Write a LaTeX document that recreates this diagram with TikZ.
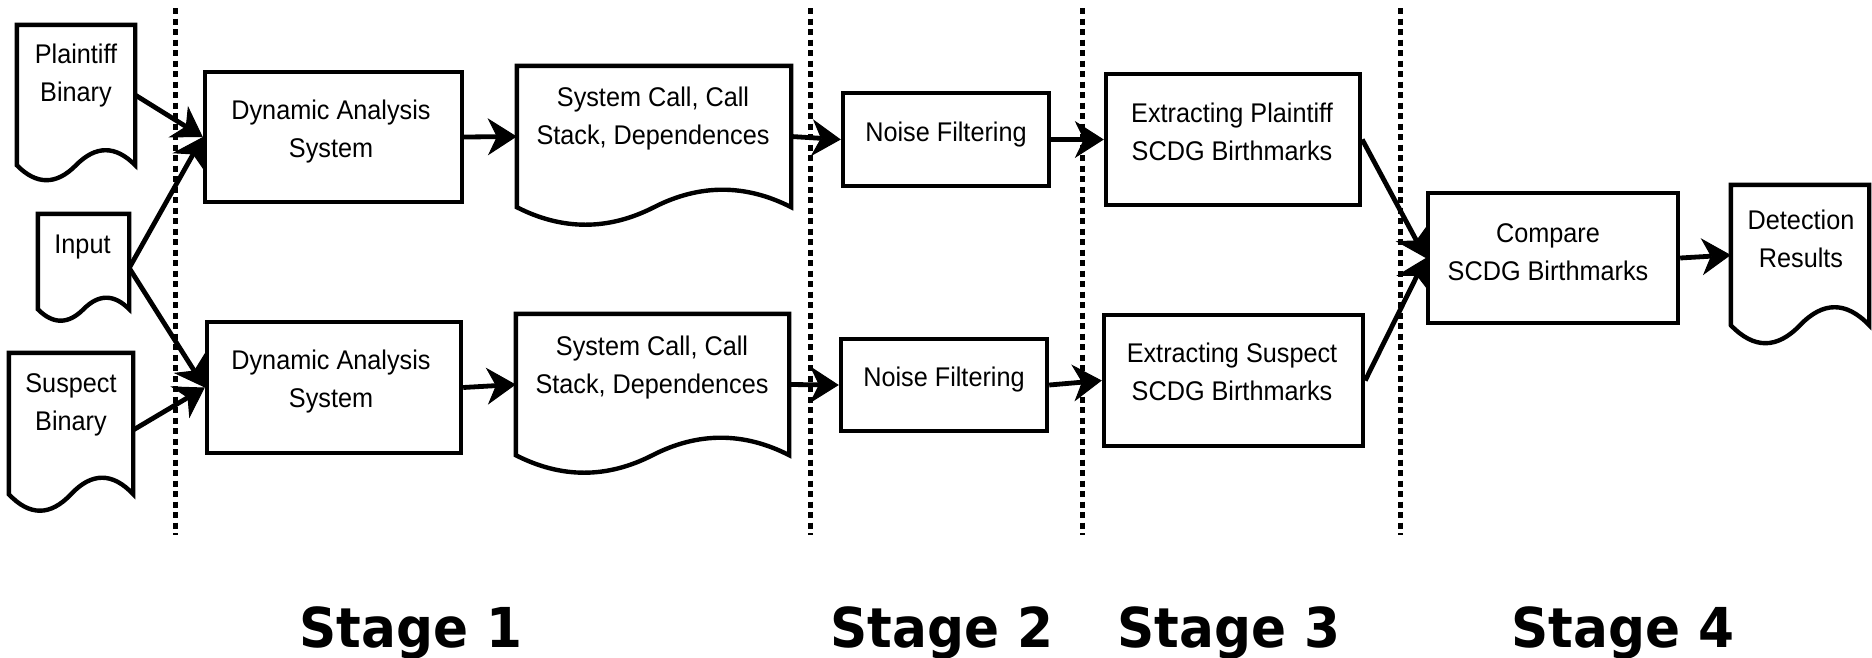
\documentclass[tikz,border=0pt]{standalone}
\usepackage{fontspec}
\setmainfont{Liberation Sans}
\newfontfamily\boxfamily[FakeStretch=0.935]{Liberation Sans}
\newfontfamily\stagefamily[FakeStretch=0.94]{DejaVu Sans}
\usetikzlibrary{arrows.meta,calc}

% Outline of a "document" shape: flat top, straight sides, wavy bottom.
% #1 = node name (its rectangle runs from the top to the wave's end line)
% #2 = wave amplitude
\newcommand\docoutline[2]{%
  \draw[outline] let \p1=(#1.north west), \p2=(#1.south east) in
    (\x1,\y1) -- (\x2,\y1) -- (\x2,\y2)
    .. controls ({\x2-(\x2-\x1)/6},{\y2+#2*1.3333pt}) and ({(\x1+\x2)/2+(\x2-\x1)/6},{\y2+#2*1.3333pt}) .. ({(\x1+\x2)/2},\y2)
    .. controls ({(\x1+\x2)/2-(\x2-\x1)/6},{\y2-#2*1.3333pt}) and ({\x1+(\x2-\x1)/6},{\y2-#2*1.3333pt}) .. (\x1,\y2)
    -- cycle;}

\begin{document}
\begin{tikzpicture}[x=1pt,y=-1pt,
  outline/.style={line width=4.4pt, line join=miter},
  procbox/.style={draw, line width=4.4pt, line join=miter, inner sep=0pt},
  docarea/.style={draw=none, inner sep=0pt},
  txt/.style={font=\boxfamily\fontsize{27}{38}\selectfont, align=center, inner sep=0pt, anchor=north},
  stage/.style={font=\stagefamily\bfseries\fontsize{55}{60}\selectfont, inner sep=0pt, anchor=base},
  flow/.style={line width=4.8pt, -{Stealth[length=29pt,width=37pt,inset=9pt,line width=1pt]}},
  separator/.style={line width=5pt, dash pattern=on 6pt off 4.5pt}
]
\useasboundingbox (0,0) rectangle (1872,657);

% stage separators
\draw[separator] (175,8) -- (175,535);
\draw[separator] (810,8) -- (810,535);
\draw[separator] (1082,8) -- (1082,535);
\draw[separator] (1400,8) -- (1400,535);

% inputs
\node[docarea, minimum width=118pt, minimum height=140pt] (plaintiff) at (76,95) {};
\docoutline{plaintiff}{15}
\node[txt] (plaintiff-t) at (76,44) {Plaintiff\\Binary};

\node[docarea, minimum width=91pt, minimum height=95pt] (input) at (83.5,261.5) {};
\docoutline{input}{11.5}
\node[txt] (input-t) at (82.5,235) {Input};

\node[docarea, minimum width=124pt, minimum height=141pt] (suspect) at (71,423.5) {};
\docoutline{suspect}{16.5}
\node[txt] (suspect-t) at (71,373) {Suspect\\Binary};

% stage 1
\node[procbox, minimum width=257pt, minimum height=130pt] (das1) at (333.5,137) {};
\node[txt] (das1-t) at (331,100) {Dynamic Analysis\\System};
\node[procbox, minimum width=254pt, minimum height=131pt] (das2) at (334,387.5) {};
\node[txt] (das2-t) at (331,350) {Dynamic Analysis\\System};

\node[docarea, minimum width=274pt, minimum height=141pt] (trace1) at (654,136.5) {};
\docoutline{trace1}{17.5}
\node[txt] (trace1-t) at (653,87) {System Call, Call\\Stack, Dependences};

\node[docarea, minimum width=273pt, minimum height=141pt] (trace2) at (652.5,384.5) {};
\docoutline{trace2}{17.5}
\node[txt] (trace2-t) at (652,336) {System Call, Call\\Stack, Dependences};

% stage 2
\node[procbox, minimum width=206pt, minimum height=93pt] (noise1) at (946,139.5) {};
\node[txt] (noise1-t) at (946,122) {Noise Filtering};
\node[procbox, minimum width=206pt, minimum height=92pt] (noise2) at (944,385) {};
\node[txt] (noise2-t) at (944,367) {Noise Filtering};

% stage 3
\node[procbox, minimum width=254pt, minimum height=131pt] (extract1) at (1233,139.5) {};
\node[txt] (extract1-t) at (1232,103) {Extracting Plaintiff\\SCDG Birthmarks};
\node[procbox, minimum width=259pt, minimum height=131pt] (extract2) at (1233.5,380.5) {};
\node[txt] (extract2-t) at (1232,343) {Extracting Suspect\\SCDG Birthmarks};

% stage 4
\node[procbox, minimum width=250pt, minimum height=130pt] (compare) at (1553,258) {};
\node[txt] (compare-t) at (1548,223) {Compare\\SCDG Birthmarks};

\node[docarea, minimum width=138pt, minimum height=140pt] (result) at (1800,255) {};
\docoutline{result}{18}
\node[txt] (result-t) at (1801,210) {Detection\\Results};

% connectors
\draw[flow] (plaintiff.east) -- (das1.west);
\draw[flow] ([yshift=-6.5pt]input.east) -- (das1.west);
\draw[flow] ([yshift=-6.5pt]input.east) -- (das2.west);
\draw[flow] ([yshift=-6.5pt]suspect.east) -- (das2.west);
\draw[flow] (das1.east) -- (trace1.west);
\draw[flow] (das2.east) -- (trace2.west);
\draw[flow] (trace1.east) -- (noise1.west);
\draw[flow] (trace2.east) -- (noise2.west);
\draw[flow] (noise1.east) -- (extract1.west);
\draw[flow] (noise2.east) -- (extract2.west);
\draw[flow] (extract1.east) -- (compare.west);
\draw[flow] (extract2.east) -- (compare.west);
\draw[flow] (compare.east) -- (result.west);

% stage captions
\node[stage] (stage1) at (411,647) {Stage 1};
\node[stage] (stage2) at (942,647) {Stage 2};
\node[stage] (stage3) at (1229,647) {Stage 3};
\node[stage] (stage4) at (1623,647) {Stage 4};
\end{tikzpicture}
\end{document}
